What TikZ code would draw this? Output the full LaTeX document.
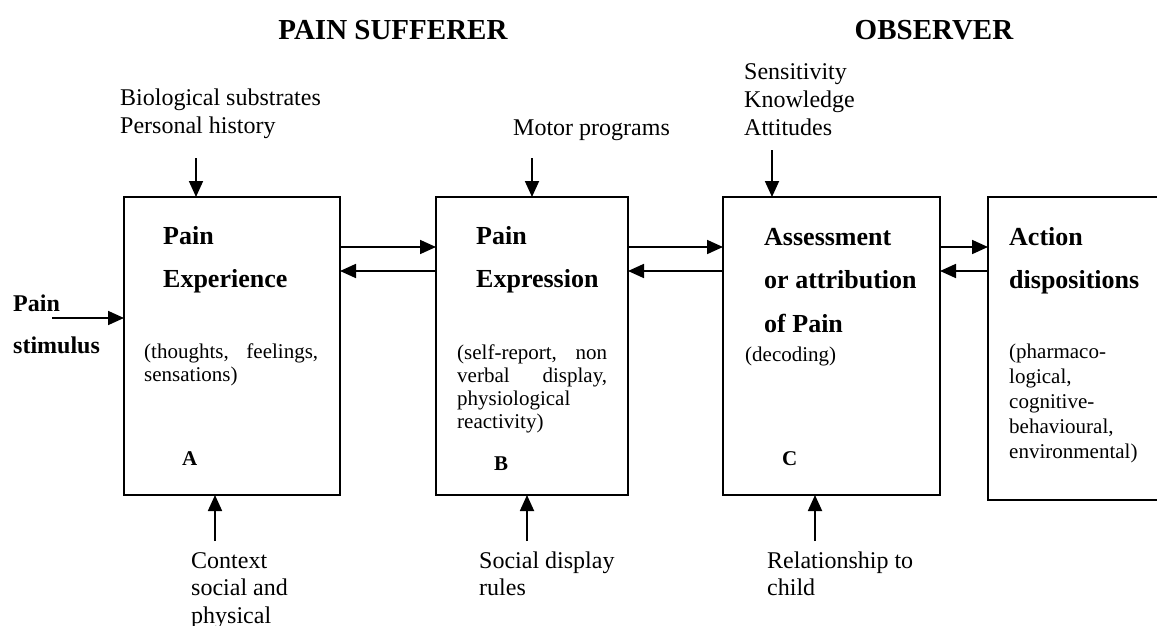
\documentclass[tikz,border=0pt]{standalone}
\usepackage{fontspec}
\setmainfont{Liberation Serif}
\usetikzlibrary{arrows.meta}
\begin{document}
\begin{tikzpicture}[x=1pt,y=-1pt,
  box/.style={draw, line width=1.8pt, inner sep=0pt, outer sep=0pt},
  arr/.style={line width=1.8pt, -{Triangle[length=16pt,width=14pt]}},
  head/.style={font=\fontsize{29}{33}\selectfont\bfseries, anchor=base, inner sep=0pt},
  lbl/.style={font=\fontsize{24}{27.5}\selectfont, anchor=base west, inner sep=0pt},
  ttl/.style={font=\fontsize{26}{43.5}\selectfont\bfseries, anchor=base west, inner sep=0pt},
  sub/.style={font=\fontsize{21}{23.3}\selectfont, anchor=base west, inner sep=0pt},
  subw/.style={font=\fontsize{21}{25}\selectfont, anchor=base west, inner sep=0pt},
  stim/.style={font=\fontsize{24}{42}\selectfont\bfseries, anchor=base west, inner sep=0pt},
  letter/.style={font=\fontsize{21}{23}\selectfont\bfseries, anchor=base west, inner sep=0pt},
]
\path[use as bounding box, fill=white] (0,0) rectangle (1157,626);
\clip (0,0) rectangle (1157,626);

% boxes
\node[box, minimum width=216pt, minimum height=298pt] (A) at (232,346) {};
\node[box, minimum width=192pt, minimum height=298pt] (B) at (532,346) {};
\node[box, minimum width=217pt, minimum height=298pt] (C) at (831.5,346) {};
\node[box, minimum width=220pt, minimum height=303pt] (D) at (1098,348.5) {};

% headings
\node[head] (hps) at (393,40) {PAIN SUFFERER};
\node[head] (hobs) at (934,40) {OBSERVER};

% top labels
\node[lbl] (bio) at (120,106) {\vtop{\hbox{Biological substrates}\hbox{Personal history}}};
\node[lbl] (motor) at (513,135) {Motor programs};
\node[lbl] (sens) at (744,80) {\vtop{\hbox{Sensitivity}\hbox{Knowledge}\hbox{Attitudes}}};

% titles in boxes
\node[ttl] (tA1) at (163,244) {\vtop{\hbox{Pain}\hbox{Experience}}};
\node[ttl] (tB1) at (476,244) {\vtop{\hbox{Pain}\hbox{Expression}}};
\node[ttl] (tC1) at (764,245) {\vtop{\hbox{Assessment}\hbox{or attribution}\hbox{of Pain}}};
\node[ttl] (tD1) at (1009,245) {\vtop{\hbox{Action}\hbox{dispositions}}};

% sub texts
\node[sub] (sA) at (144,358) {\vtop{\hbox to174pt{(thoughts,\hfill feelings,}\hbox{sensations)}}};
\node[sub] (sB) at (457,359) {\vtop{\hbox to150pt{(self-report,\hfill non}\hbox to150pt{verbal\hfill display,}\hbox{physiological}\hbox{reactivity)}}};
\node[sub] (sC) at (745,361) {(decoding)};
\node[subw] (sD) at (1009,358) {\vtop{\hbox{(pharmaco-}\hbox{logical,}\hbox{cognitive-}\hbox{behavioural,}\hbox{environmental)}}};

% letters
\node[letter] (lA) at (182,465) {A};
\node[letter] (lB) at (494,470) {B};
\node[letter] (lC) at (782,465) {C};

% pain stimulus
\node[stim] (stim) at (13,311) {\vtop{\hbox{Pain}\hbox{stimulus}}};

% bottom labels
\node[lbl] (ctx) at (191,568) {\vtop{\hbox{Context}\hbox{social and}\hbox{physical}}};
\node[lbl] (soc) at (479,568) {\vtop{\hbox{Social display}\hbox{rules}}};
\node[lbl] (rel) at (767,568) {\vtop{\hbox{Relationship to}\hbox{child}}};

% connector start points
\coordinate (ps) at (52,318);
\coordinate (tA) at (196,158);
\coordinate (tB) at (532,158);
\coordinate (tC) at (772,150);
\coordinate (bA) at (215,541);
\coordinate (bB) at (527,541);
\coordinate (bC) at (815,541);

\draw[arr] (ps) -- (ps -| A.west);
\draw[arr] (tA) -- (tA |- A.north);
\draw[arr] (tB) -- (tB |- B.north);
\draw[arr] (tC) -- (tC |- C.north);
\draw[arr] (bA) -- (bA |- A.south);
\draw[arr] (bB) -- (bB |- B.south);
\draw[arr] (bC) -- (bC |- C.south);

\draw[arr] ([yshift=-50pt]A.north east) -- ([yshift=-50pt]B.north west);
\draw[arr] ([yshift=-74pt]B.north west) -- ([yshift=-74pt]A.north east);
\draw[arr] ([yshift=-50pt]B.north east) -- ([yshift=-50pt]C.north west);
\draw[arr] ([yshift=-74pt]C.north west) -- ([yshift=-74pt]B.north east);
\draw[arr] ([yshift=-50pt]C.north east) -- ([yshift=-50pt]D.north west);
\draw[arr] ([yshift=-74pt]D.north west) -- ([yshift=-74pt]C.north east);
\end{tikzpicture}
\end{document}
